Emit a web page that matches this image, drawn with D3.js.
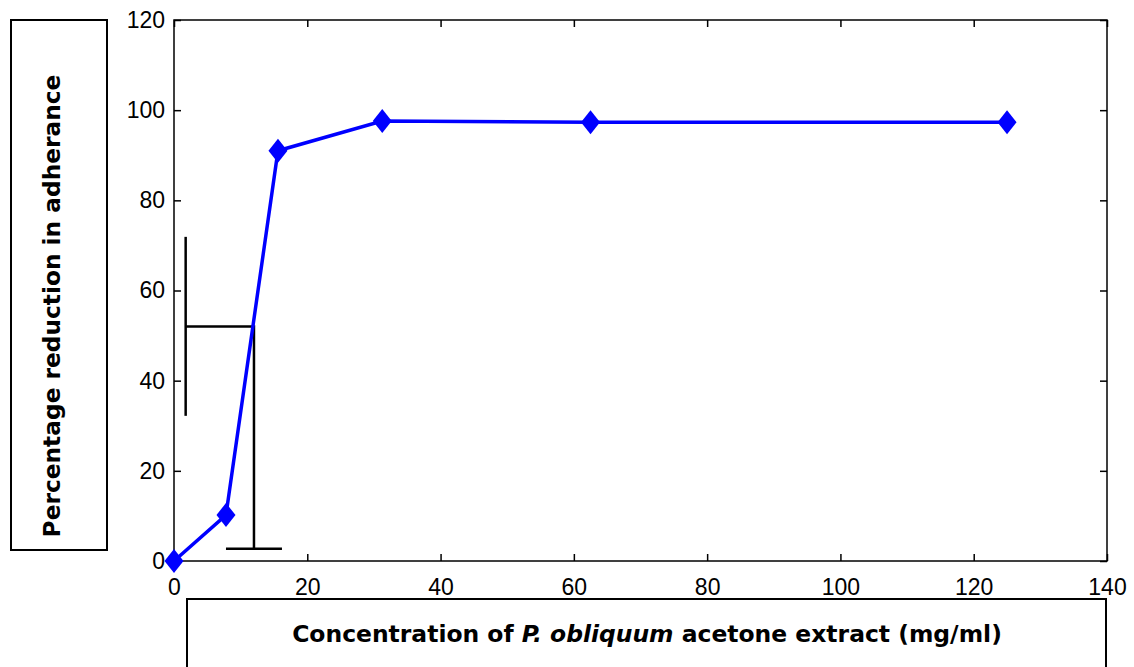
<!DOCTYPE html>
<html>
<head>
<meta charset="utf-8">
<script src="https://cdn.jsdelivr.net/npm/d3@7"></script>
<style>
  body { margin: 0; background: #fff; }
  svg { display: block; }
</style>
</head>
<body>
<svg id="chart" width="1134" height="667"></svg>
<script>
// concentration (mg/ml) and percentage reduction
const conc = [0, 7.8, 15.6, 31.25, 62.5, 125];
const reduction = [0, 10.2, 91, 97.6, 97.3, 97.3];

const xTicks = [0, 20, 40, 60, 80, 100, 120, 140];
const yTicks = [0, 20, 40, 60, 80, 100, 120];

// the black guide lines drawn in the figure (data units)
const guideX = [1.75, 1.75, 1.75, 12, 12];
const guideY = [71.9, 32.2, 52, 52, 2.7];
const capX = [7.8, 16.2];

const xTitle = ["Concentration of ", "P. obliquum", " acetone extract (mg/ml)"];
const yTitle = "Percentage reduction in adherance";

const svg = d3.select("#chart");
const mLeft = 174, mRight = 1107, mTop = 20, mBottom = 561;

const x = d3.scaleLinear().domain([0, 140]).range([mLeft, mRight]);
const y = d3.scaleLinear().domain([0, 120]).range([mBottom, mTop]);

// label boxes
svg.append("rect")
    .attr("x", 11).attr("y", 20).attr("width", 96).attr("height", 530)
    .attr("fill", "none").attr("stroke", "#000").attr("stroke-width", 2);

svg.append("rect")
    .attr("x", 187).attr("y", 599).attr("width", 919).attr("height", 100)
    .attr("fill", "none").attr("stroke", "#000").attr("stroke-width", 2);

// axes box
svg.append("rect")
    .attr("x", mLeft).attr("y", mTop).attr("width", mRight - mLeft).attr("height", mBottom - mTop)
    .attr("fill", "none").attr("stroke", "#000").attr("stroke-width", 1.5);

const tickLen = 7;
const axisFont = "'Liberation Sans', Arial, sans-serif";

// bottom and top ticks
svg.append("g")
    .attr("transform", `translate(0,${mBottom})`)
    .call(d3.axisBottom(x).tickValues(xTicks).tickSize(-tickLen).tickPadding(tickLen + 11).tickFormat(d3.format("d")))
    .call(g => g.select(".domain").remove())
    .call(g => g.selectAll("line").attr("stroke-width", 1.5))
    .call(g => g.selectAll("text").attr("font-family", axisFont).attr("font-size", 23).attr("fill", "#000"));

svg.append("g")
    .attr("transform", `translate(0,${mTop})`)
    .call(d3.axisTop(x).tickValues(xTicks).tickSize(-tickLen).tickFormat(""))
    .call(g => g.select(".domain").remove())
    .call(g => g.selectAll("line").attr("stroke-width", 1.5));

// left and right ticks
svg.append("g")
    .attr("transform", `translate(${mLeft},0)`)
    .call(d3.axisLeft(y).tickValues(yTicks).tickSize(-tickLen).tickPadding(tickLen + 2).tickFormat(d3.format("d")))
    .call(g => g.select(".domain").remove())
    .call(g => g.selectAll("line").attr("stroke-width", 1.5))
    .call(g => g.selectAll("text").attr("font-family", axisFont).attr("font-size", 23).attr("fill", "#000"));

svg.append("g")
    .attr("transform", `translate(${mRight},0)`)
    .call(d3.axisRight(y).tickValues(yTicks).tickSize(-tickLen).tickFormat(""))
    .call(g => g.select(".domain").remove())
    .call(g => g.selectAll("line").attr("stroke-width", 1.5));

// guide lines
const guide = d3.line().x(d => x(d[0])).y(d => y(d[1]));
svg.append("path")
    .attr("d", guide([[guideX[0], guideY[0]], [guideX[1], guideY[1]]]))
    .attr("stroke", "#000").attr("stroke-width", 2.5).attr("fill", "none");
svg.append("path")
    .attr("d", guide([[guideX[2], guideY[2]], [guideX[3], guideY[3]], [guideX[4], guideY[4]]]))
    .attr("stroke", "#000").attr("stroke-width", 2.5).attr("fill", "none");
svg.append("path")
    .attr("d", guide([[capX[0], guideY[4]], [capX[1], guideY[4]]]))
    .attr("stroke", "#000").attr("stroke-width", 2.5).attr("fill", "none");

// data line
const pts = conc.map((c, i) => [c, reduction[i]]);
svg.append("path")
    .datum(pts)
    .attr("d", d3.line().x(d => x(d[0])).y(d => y(d[1])))
    .attr("stroke", "#0000ff").attr("stroke-width", 3.5).attr("fill", "none");

svg.append("g").selectAll("path")
    .data(pts)
    .join("path")
    .attr("transform", d => `translate(${x(d[0])},${y(d[1])})`)
    .attr("d", "M0,-12L9.5,0L0,12L-9.5,0Z")
    .attr("fill", "#0000ff");

// titles - sized to the width they take in the figure
const titleFont = "'DejaVu Sans', 'Open Sans', sans-serif";
function fitText(sel, target) {
    const w = sel.node().getComputedTextLength();
    const fs = +sel.attr("font-size");
    sel.attr("font-size", fs * target / w);
}

const xt = svg.append("text")
    .attr("x", 647).attr("y", 642)
    .attr("text-anchor", "middle")
    .attr("font-family", titleFont).attr("font-weight", "bold").attr("font-size", 20)
    .attr("fill", "#000");
xt.selectAll("tspan").data(xTitle).join("tspan")
    .attr("font-style", (d, i) => i === 1 ? "italic" : "normal")
    .text(d => d);
fitText(xt, 710);

const yt = svg.append("text")
    .attr("transform", "translate(60,306) rotate(-90)")
    .attr("text-anchor", "middle")
    .attr("font-family", titleFont).attr("font-weight", "bold").attr("font-size", 20)
    .attr("fill", "#000")
    .text(yTitle);
fitText(yt, 463);
</script>
</body>
</html>
